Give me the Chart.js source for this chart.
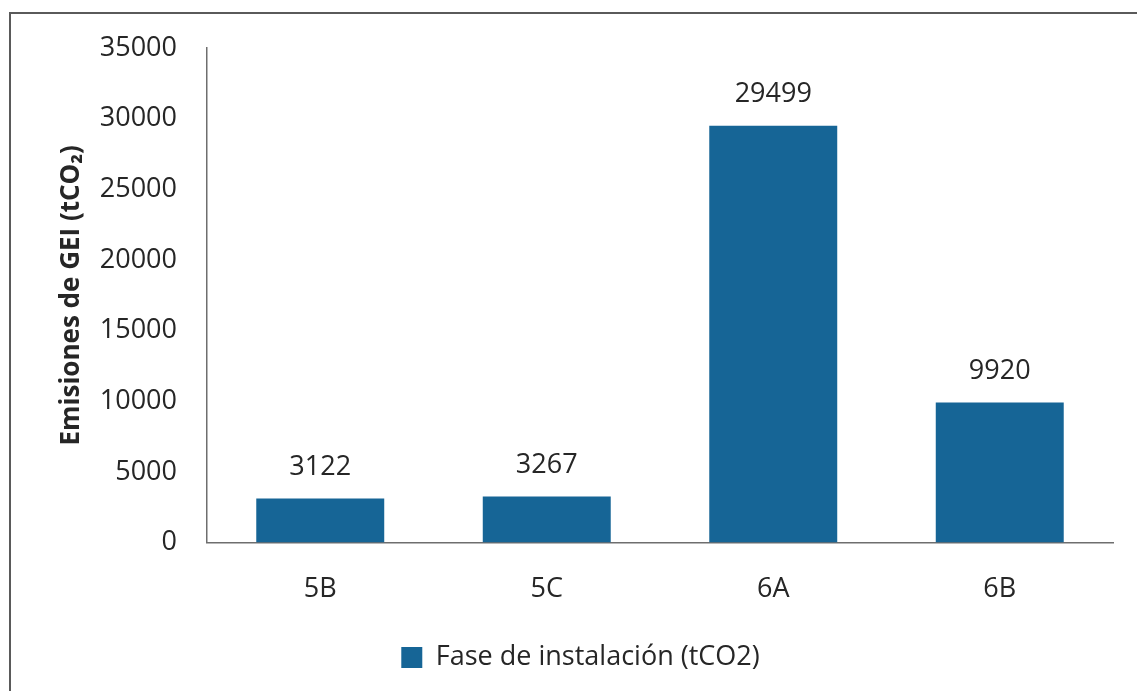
<!DOCTYPE html>
<html lang="es">
<head>
  <meta charset="UTF-8">
  <title>Emisiones de GEI</title>
  <script src="https://cdn.jsdelivr.net/npm/chart.js"></script>
  <style>
    body { margin: 0; background: #fff; overflow: hidden; }
    #wrap { position: relative; width: 1137px; height: 691px; }
    #frame {
      position: absolute; left: 9px; top: 12px;
      width: 2000px; height: 2000px;
      border: 2px solid #5a5a5a; pointer-events: none;
    }
  </style>
</head>
<body>
  <div id="wrap">
    <canvas id="chart" width="1137" height="691"></canvas>
    <div id="frame"></div>
  </div>

  <script>
    // data
    const categories = ['5B', '5C', '6A', '6B'];
    const emissions = [3122, 3267, 29499, 9920];
    const seriesLabel = 'Fase de instalación (tCO2)';
    const yTitle = 'Emisiones de GEI (tCO₂)';

    const barColor = '#166596';
    const textColor = '#262626';
    const axisColor = '#6e6e6e';

    // value labels above each bar
    const valueLabels = {
      id: 'valueLabels',
      afterDatasetsDraw(chart) {
        const ctx = chart.ctx;
        const meta = chart.getDatasetMeta(0);
        ctx.save();
        ctx.font = '27px "Open Sans"';
        ctx.fillStyle = textColor;
        ctx.textAlign = 'center';
        ctx.textBaseline = 'middle';
        meta.data.forEach((bar, i) => {
          ctx.fillText(String(emissions[i]), bar.x, bar.y - 31);
        });
        ctx.restore();
      }
    };

    new Chart(document.getElementById('chart'), {
      type: 'bar',
      data: {
        labels: categories,
        datasets: [{
          label: seriesLabel,
          data: emissions,
          backgroundColor: barColor,
          borderWidth: 0,
          barPercentage: 0.565,
          categoryPercentage: 1
        }]
      },
      options: {
        responsive: false,
        animation: false,
        layout: { padding: { left: 48, right: 24, top: 48, bottom: 10 } },
        plugins: {
          tooltip: { enabled: false },
          legend: {
            position: 'bottom',
            labels: {
              color: textColor,
              font: { family: 'Open Sans', size: 27 },
              boxWidth: 21,
              boxHeight: 21,
              padding: 7
            }
          }
        },
        scales: {
          x: {
            grid: { display: false, drawTicks: false },
            border: { display: true, color: axisColor, width: 1.5 },
            ticks: { color: textColor, font: { family: 'Open Sans', size: 27 }, padding: 31 }
          },
          y: {
            min: 0,
            max: 35000,
            grid: { display: false, drawTicks: false },
            border: { display: true, color: axisColor, width: 1.5 },
            ticks: {
              stepSize: 5000,
              color: textColor,
              font: { family: 'Open Sans', size: 27 },
              padding: 30,
              callback: (v) => String(v)
            },
            title: {
              display: true,
              text: yTitle,
              color: textColor,
              font: { family: 'Open Sans', size: 26, weight: 'bold' },
              padding: { top: 8, bottom: 0 }
            },
            afterFit(scale) { scale.width = 159; }
          }
        }
      },
      plugins: [valueLabels]
    });
  </script>
</body>
</html>
